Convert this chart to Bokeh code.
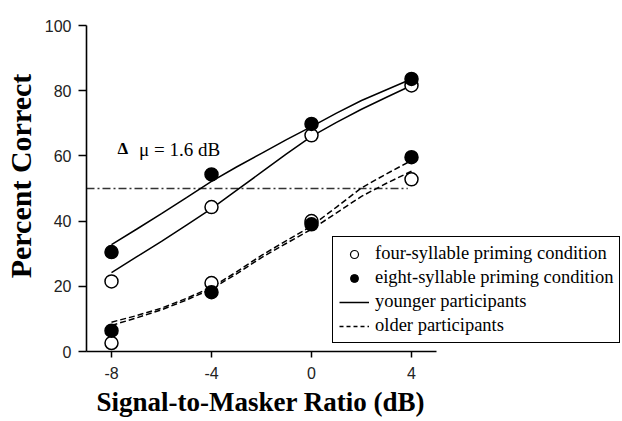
from bokeh.plotting import figure
from bokeh.models import Range1d, FixedTicker, Legend, LegendItem, Label, Title
from bokeh.embed import file_html
from bokeh.resources import INLINE

# ---- data ----
snr = [-8, -4, 0, 4]
young_four = [21.5, 44.3, 66.3, 81.6]
young_eight = [30.5, 54.3, 69.8, 83.6]
old_four = [2.6, 21.0, 40.0, 52.8]
old_eight = [6.4, 18.2, 39.0, 59.6]

# fitted curves, every 1 dB
fit_x = [-8, -7, -6, -5, -4, -3, -2, -1, 0, 1, 2, 3, 4]
fit_young_four = [24.2, 29.0, 33.8, 38.8, 43.8, 49.4, 55.0, 60.6, 66.0, 70.3, 74.3, 78.0, 81.6]
fit_young_eight = [32.8, 37.5, 42.3, 47.2, 52.2, 56.6, 60.8, 65.0, 69.0, 73.1, 77.0, 80.3, 83.6]
fit_old_four = [8.0, 10.3, 12.8, 15.8, 19.2, 23.8, 28.8, 33.2, 37.5, 42.5, 47.6, 51.6, 55.3]
fit_old_eight = [9.0, 11.0, 13.3, 16.3, 19.7, 24.4, 29.5, 34.0, 38.5, 44.3, 50.2, 54.5, 58.6]

criterion = 50
criterion_x = [-9.0, 3.85]

x_ticks = [-8, -4, 0, 4]
x_tick_labels = ["-8", "-4", "0", "4"]
y_ticks = [0, 20, 40, 60, 80, 100]

SERIF = "Liberation Serif"
SANS = "Liberation Sans"
NAN = float("nan")

p = figure(width=622, height=421, output_backend="svg", toolbar_location=None,
           x_range=Range1d(-9, -9 + 536 / 25.0), y_range=Range1d(0, 100 + 25 / 3.26),
           min_border_left=86, min_border_right=0, min_border_top=0, min_border_bottom=70)
p.outline_line_color = None
p.xgrid.visible = False
p.ygrid.visible = False
p.background_fill_color = "white"

for ax in (p.xaxis[0], p.yaxis[0]):
    ax.axis_line_color = "black"
    ax.axis_line_width = 1.6
    ax.major_tick_line_color = "black"
    ax.major_tick_line_width = 1.5
    ax.major_tick_in = 0
    ax.minor_tick_line_color = None
    ax.major_label_text_font = SANS
    ax.major_label_text_font_size = "16px"
    ax.major_label_text_color = "#222222"

p.xaxis.bounds = (-9, 5)
p.xaxis.ticker = FixedTicker(ticks=x_ticks)
p.xaxis.major_label_overrides = {t: s for t, s in zip(x_ticks, x_tick_labels)}
p.xaxis.major_tick_out = 6
p.xaxis.major_label_standoff = 9

p.yaxis.bounds = (0, 100)
p.yaxis.ticker = FixedTicker(ticks=y_ticks)
p.yaxis.major_tick_out = 8
p.yaxis.major_label_standoff = 7
p.yaxis.axis_label = "Percent Correct"
p.yaxis.axis_label_text_font = SERIF
p.yaxis.axis_label_text_font_style = "bold"
p.yaxis.axis_label_text_font_size = "30px"
p.yaxis.axis_label_text_color = "black"
p.yaxis.axis_label_standoff = 5

xt = Title(text="Signal-to-Masker Ratio (dB)", align="left", offset=10,
           text_font=SERIF, text_font_style="bold", text_font_size="27px",
           text_color="black", standoff=7)
p.add_layout(xt, "below")

# criterion line
p.line(criterion_x, [criterion, criterion], line_color="#333333", line_width=1.3,
       line_dash="8 3 2 3")

# fitted curves
p.line(fit_x, fit_young_four, line_color="black", line_width=1.5)
p.line(fit_x, fit_young_eight, line_color="black", line_width=1.5)
p.line(fit_x, fit_old_four, line_color="black", line_width=1.5, line_dash="6 3")
p.line(fit_x, fit_old_eight, line_color="black", line_width=1.5, line_dash="6 3")

# points
for ys in (young_four, old_four):
    p.scatter(snr, ys, marker="circle", size=13, fill_color="white",
              line_color="black", line_width=1.5)
for ys in (young_eight, old_eight):
    p.scatter(snr, ys, marker="circle", size=13, fill_color="black",
              line_color="black", line_width=1.5)

# annotation
p.add_layout(Label(x=-7.76, y=62.3, text="\u0394", text_font=SERIF, text_font_style="bold",
                   text_font_size="17px", text_color="black", text_baseline="alphabetic"))
p.add_layout(Label(x=-6.9, y=62.0, text="\u03bc = 1.6 dB", text_font=SERIF,
                   text_font_size="19px", text_color="black", text_baseline="alphabetic"))

# legend via invisible dummy renderers (NaN data)
r_open = p.scatter([NAN], [NAN], marker="circle", size=8, fill_color="white",
                   line_color="black", line_width=1.2)
r_fill = p.scatter([NAN], [NAN], marker="circle", size=8, fill_color="black", line_color="black")
r_solid = p.line([NAN, NAN], [NAN, NAN], line_color="black", line_width=1.5)
r_dash = p.line([NAN, NAN], [NAN, NAN], line_color="black", line_width=1.5, line_dash="4 3")

legend = Legend(items=[
    LegendItem(label="four-syllable priming condition", renderers=[r_open]),
    LegendItem(label="eight-syllable priming condition", renderers=[r_fill]),
    LegendItem(label="younger participants", renderers=[r_solid]),
    LegendItem(label="older participants", renderers=[r_dash]),
], location=(246, 8), label_text_font=SERIF, label_text_font_size="18.5px",
    label_text_color="black", glyph_width=30, glyph_height=20, label_standoff=6,
    padding=6, spacing=3, label_height=21, border_line_color="black",
    border_line_alpha=1.0, border_line_width=1.5, background_fill_color="white",
    background_fill_alpha=1.0, margin=0)
p.add_layout(legend)

open("out.html", "w").write(file_html(p, INLINE))
